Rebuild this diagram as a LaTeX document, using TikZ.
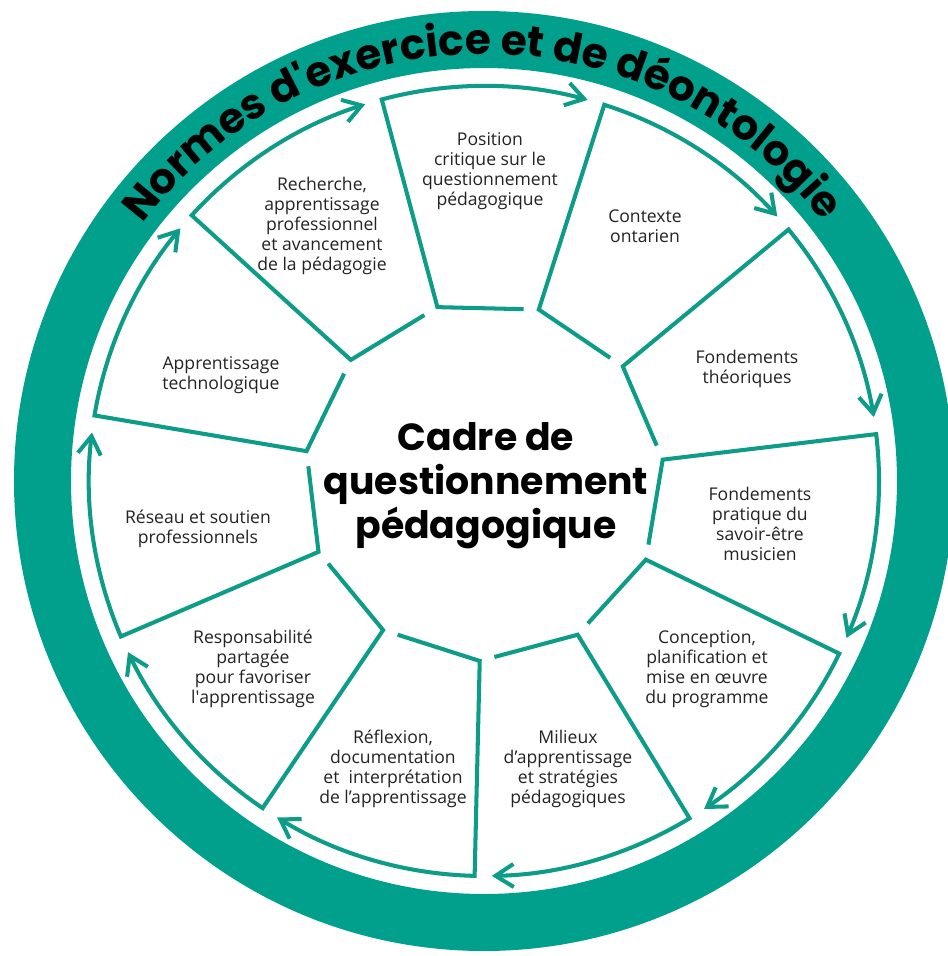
\documentclass[tikz,border=0pt]{standalone}
\usepackage{fontspec}
\setmainfont{Open Sans}
\newfontfamily\hubfont{Poppins}
\usetikzlibrary{arrows.meta,calc,decorations.text}
\definecolor{ringTeal}{RGB}{0,160,140}
\definecolor{lineTeal}{RGB}{12,156,136}
\definecolor{labelInk}{RGB}{35,35,35}
\newcommand\normesfont{\color{black}\hubfont\bfseries\fontsize{24}{24}\selectfont}

\begin{document}
\begin{tikzpicture}[
    x=0.2mm,y=0.2mm,
    seg/.style={draw=lineTeal,line width=2.3pt,-{Straight Barb[length=3.6mm,width=4.6mm]}},
    lbl/.style={align=center,inner sep=0pt,text=labelInk,font=\fontsize{10}{11.4}\selectfont},
    hub/.style={align=center,inner sep=0pt,font=\hubfont\bfseries\fontsize{21.5}{25}\selectfont}
  ]
  \fill[white] (-484,-475) rectangle (464,481);
  \useasboundingbox (-484,-475) rectangle (464,481);
  % outer band and its title
  \fill[ringTeal,even odd rule] (0,0) circle[radius=470] (0,0) circle[radius=413];
  \path[decorate,decoration={text along path,text align={fit to path},
      text={|\normesfont|Normes d'exercice et de déontologie}}]
    (143:427) arc[start angle=143,end angle=38,radius=427];
  % spoke corners
  \coordinate (q1) at (105:180);     \coordinate (r1) at (105:395);
  \coordinate (q2) at (72.27:180);   \coordinate (r2) at (72.27:395);
  \coordinate (q3) at (39.55:180);   \coordinate (r3) at (39.55:395);
  \coordinate (q4) at (6.82:180);    \coordinate (r4) at (6.82:395);
  \coordinate (q5) at (-25.91:180);  \coordinate (r5) at (-25.91:395);
  \coordinate (q6) at (-58.64:180);  \coordinate (r6) at (-58.64:395);
  \coordinate (q7) at (-91.36:180);  \coordinate (r7) at (-91.36:395);
  \coordinate (q8) at (-124.09:180); \coordinate (r8) at (-124.09:395);
  \coordinate (q9) at (-156.82:180); \coordinate (r9) at (-156.82:395);
  \coordinate (q10) at (170.45:180); \coordinate (r10) at (170.45:395);
  \coordinate (q11) at (137.73:180); \coordinate (r11) at (137.73:395);
  % segments, each one running on to the next
  \draw[seg] ($(q1)!.85!(q2)$) -- (q1) -- (r1) arc[start angle=105,end angle=74.77,radius=395];
  \draw[seg] ($(q2)!.85!(q3)$) -- (q2) -- (r2) arc[start angle=72.27,end angle=42.05,radius=395];
  \draw[seg] ($(q3)!.85!(q4)$) -- (q3) -- (r3) arc[start angle=39.55,end angle=9.32,radius=395];
  \draw[seg] ($(q4)!.85!(q5)$) -- (q4) -- (r4) arc[start angle=6.82,end angle=-23.41,radius=395];
  \draw[seg] ($(q5)!.85!(q6)$) -- (q5) -- (r5) arc[start angle=-25.91,end angle=-56.14,radius=395];
  \draw[seg] ($(q6)!.85!(q7)$) -- (q6) -- (r6) arc[start angle=-58.64,end angle=-88.86,radius=395];
  \draw[seg] ($(q7)!.85!(q8)$) -- (q7) -- (r7) arc[start angle=-91.36,end angle=-121.59,radius=395];
  \draw[seg] ($(q8)!.85!(q9)$) -- (q8) -- (r8) arc[start angle=-124.09,end angle=-154.32,radius=395];
  \draw[seg] ($(q9)!.85!(q10)$) -- (q9) -- (r9) arc[start angle=-156.82,end angle=-187.05,radius=395];
  \draw[seg] ($(q10)!.85!(q11)$) -- (q10) -- (r10) arc[start angle=170.45,end angle=140.23,radius=395];
  \draw[seg] ($(q11)!.85!(q1)$) -- (q11) -- (r11) arc[start angle=137.73,end angle=107.5,radius=395];
  % labels
  \node[lbl] (position) at (6,310) {Position\\critique sur le\\questionnement\\pédagogique};
  \node[lbl] (contexte) at (161,255) {Contexte\\ontarien};
  \node[lbl] (theorie) at (263,112) {Fondements\\théoriques};
  \node[lbl] (pratique) at (276,-43) {Fondements\\pratique du\\savoir-être\\musicien};
  \node[lbl] (programme) at (223,-188) {Conception,\\planification et\\mise en œuvre\\du programme};
  \node[lbl] (milieux) at (84,-288) {Milieux\\d’apprentissage\\et stratégies\\pédagogiques};
  \node[lbl] (reflexion) at (-91,-288) {Réflexion,\\documentation\\et \ interprétation\\de l’apprentissage};
  \node[lbl] (partage) at (-231,-188) {Responsabilité\\partagée\\pour favoriser\\l\textquotesingle apprentissage};
  \node[lbl] (reseau) at (-286,-48) {Réseau et soutien\\professionnels};
  \node[lbl] (techno) at (-263,106) {Apprentissage\\technologique};
  \node[lbl] (recherche) at (-162,255) {Recherche,\\apprentissage\\professionnel\\et avancement\\de la pédagogie};
  \node[hub] (cadre) at (2,-5) {Cadre de\\questionnement\\pédagogique};
\end{tikzpicture}
\end{document}
